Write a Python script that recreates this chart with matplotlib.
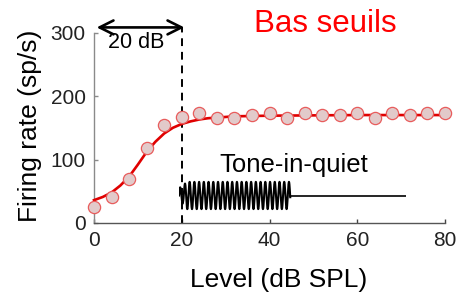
import numpy as np
import matplotlib
matplotlib.use("Agg")
import matplotlib.pyplot as plt

plt.rcParams['font.family'] = ['Liberation Sans', 'DejaVu Sans']

# Data
level_db = [0, 4, 8, 12, 16, 20, 24, 28, 32, 36, 40, 44, 48, 52, 56, 60, 64, 68, 72, 76, 80]
rate = [25, 41, 70, 118, 155, 167, 173, 165, 166, 170, 173, 165, 173, 170, 170, 173, 166, 173, 170, 173, 173]

fit_x = [0, 2, 4, 6, 8, 10, 12, 14, 16, 18, 20, 22, 24, 26, 28, 32, 40, 60, 80]
fit_y = [36, 41, 48, 59, 73, 92, 112, 128, 141, 150, 156, 160, 163, 165, 166, 168, 169, 170, 170]

xticks = [0, 20, 40, 60, 80]
yticks = [0, 100, 200, 300]

W, H = 459, 295
fig = plt.figure(figsize=(W / 100, H / 100), dpi=100)

def fx(px):
    return px / W

def fy(py):
    return 1 - py / H

ax = fig.add_axes([fx(94), fy(223), fx(445) - fx(94), fy(32.5) - fy(223)])
ax.set_xlim(0, 80)
ax.set_ylim(0, 300)
for s in ['top', 'right']:
    ax.spines[s].set_visible(False)
ax.spines['left'].set_color('#8a8a8a')
ax.spines['bottom'].set_color('#555555')
ax.spines['left'].set_linewidth(1.0)
ax.spines['bottom'].set_linewidth(1.0)
ax.set_xticks(xticks)
ax.set_yticks(yticks)
ax.tick_params(direction='in', length=3, width=1.0, labelsize=15, colors='#222222', pad=6)
ax.tick_params(axis='x', colors='#444444', labelcolor='#222222')
ax.tick_params(axis='y', colors='#8a8a8a', labelcolor='#222222')

ax.plot(fit_x, fit_y, color='#e00000', lw=1.9, zorder=3, clip_on=False)
ax.plot(level_db, rate, 'o', ms=8.8, mfc='#e2caca', mec='#e85c5c', mew=0.9,
        zorder=4, clip_on=False)

# dashed threshold marker and 20 dB arrow
ax.plot([20, 20], [0, 308], ls=(0, (4, 3)), color='black', lw=1.4, clip_on=False, zorder=2)
ax.annotate('', xy=(0.6, 308), xytext=(20.6, 308), xycoords='data',
            arrowprops=dict(arrowstyle='<->,head_length=1.0,head_width=0.5',
                            color='black', lw=1.9, shrinkA=0, shrinkB=0),
            annotation_clip=False)

fig.text(fx(136.5), fy(47.5), '20 dB', fontsize=15.5, ha='center', va='baseline', color='black')
fig.text(fx(325.5), fy(31.7), 'Bas seuils', fontsize=22.5, ha='center', va='baseline', color='#ff0000')
fig.text(fx(294), fy(172.3), 'Tone-in-quiet', fontsize=18.5, ha='center', va='baseline', color='black')

fig.text(fx(278.5), fy(286.7), 'Level (dB SPL)', fontsize=19, ha='center', va='baseline', color='black')
fig.text(fx(30), fy(126), 'Firing rate (sp/s)', fontsize=19, ha='center', va='center',
         rotation=90, color='black')

# tone waveform glyph
wax = fig.add_axes([fx(179), fy(211), fx(406) - fx(179), fy(180) - fy(211)])
wax.set_axis_off()
wax.set_xlim(0, 1)
wax.set_ylim(-1, 1)
t = np.linspace(0, 0.49, 2000)
env = np.clip(t / 0.03, 0.6, 1.0)
wave = 0.88 * env * np.sin(2 * np.pi * 48 * t)
wax.plot(t, wave, color='black', lw=1.5)
wax.plot([0.49, 1.0], [0.0, 0.0], color='black', lw=1.2)

fig.savefig('out.png', dpi=100)
